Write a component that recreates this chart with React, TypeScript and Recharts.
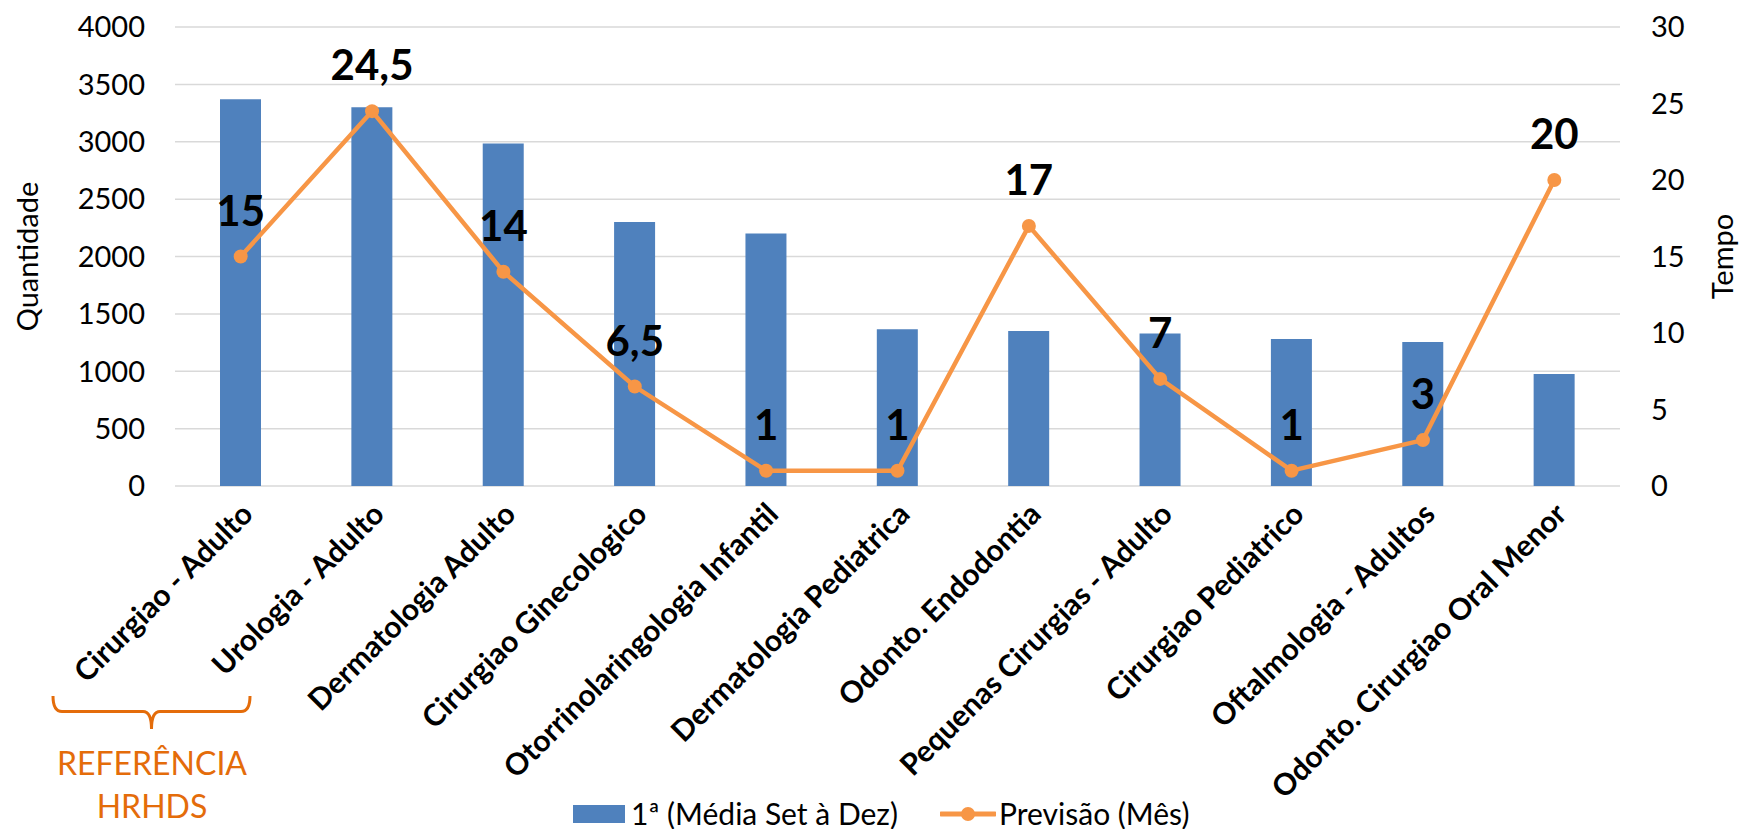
import { ComposedChart, Bar, Line, XAxis, YAxis, CartesianGrid, Legend, LabelList } from "recharts"

const categories = [
  "Cirurgiao - Adulto",
  "Urologia - Adulto",
  "Dermatologia Adulto",
  "Cirurgiao Ginecologico",
  "Otorrinolaringologia Infantil",
  "Dermatologia Pediatrica",
  "Odonto. Endodontia",
  "Pequenas Cirurgias - Adulto",
  "Cirurgiao Pediatrico",
  "Oftalmologia - Adultos",
  "Odonto. Cirurgiao Oral Menor",
]
const mediaSetDez = [3370, 3300, 2985, 2300, 2200, 1365, 1350, 1330, 1280, 1255, 975]
const previsaoMes = [15, 24.5, 14, 6.5, 1, 1, 17, 7, 1, 3, 20]
const quantidadeTicks = [0, 500, 1000, 1500, 2000, 2500, 3000, 3500, 4000]
const tempoTicks = [0, 5, 10, 15, 20, 25, 30]

const data = categories.map((name, i) => ({
  name,
  media: mediaSetDez[i],
  previsao: previsaoMes[i],
}))

const BLUE = "#4F81BD"
const ORANGE = "#F79646"
const NOTE = "#E46C0A"

function CategoryTick(props: any) {
  const { x, y, payload } = props
  const px = x + 14
  const py = y + 22
  return (
    <text
      x={px}
      y={py}
      transform={`rotate(-45, ${px}, ${py})`}
      textAnchor="end"
      fontSize={30}
      fontWeight={700}
      fill="#000"
    >
      {payload.value}
    </text>
  )
}

function LegendContent() {
  return (
    <div style={{ position: "relative", width: 660, height: 30, fontSize: 30, color: "#000" }}>
      <div style={{ position: "absolute", left: 0, top: 5, width: 52, height: 18, background: BLUE }} />
      <span style={{ position: "absolute", left: 58, top: -5, whiteSpace: "nowrap" }}>1ª (Média Set à Dez)</span>
      <svg style={{ position: "absolute", left: 367, top: 0 }} width={56} height={28}>
        <line x1={1} y1={14} x2={55} y2={14} stroke={ORANGE} strokeWidth={5} strokeLinecap="round" />
        <circle cx={28} cy={14} r={7} fill={ORANGE} />
      </svg>
      <span style={{ position: "absolute", left: 426, top: -5, whiteSpace: "nowrap" }}>Previsão (Mês)</span>
    </div>
  )
}

const fmt = (v: any) => String(v).replace(".", ",")

export default function App() {
  return (
    <div style={{ position: "absolute", left: 0, top: 0, width: 1744, height: 829, fontFamily: "Lato, sans-serif", background: "#fff" }}>
      <ComposedChart width={1744} height={829} data={data} margin={{ top: 27, right: 0, bottom: 0, left: 0 }}>
        <CartesianGrid yAxisId="left" vertical={false} stroke="#D9D9D9" strokeWidth={1.5} />
        <XAxis
          dataKey="name"
          height={343}
          interval={0}
          axisLine={false}
          tickLine={false}
          tick={<CategoryTick />}
        />
        <YAxis
          yAxisId="left"
          width={175}
          domain={[0, 4000]}
          ticks={quantidadeTicks}
          axisLine={false}
          tickLine={false}
          tickMargin={24}
          tick={{ fontSize: 29, fill: "#000" }}
          label={{ value: "Quantidade", angle: -90, position: "insideLeft", offset: 28, fontSize: 29, fill: "#000", style: { textAnchor: "middle" } }}
        />
        <YAxis
          yAxisId="right"
          orientation="right"
          width={124}
          domain={[0, 30]}
          ticks={tempoTicks}
          axisLine={false}
          tickLine={false}
          tickMargin={25}
          tick={{ fontSize: 29, fill: "#000" }}
          label={{ value: "Tempo", angle: -90, position: "insideRight", offset: 21, fontSize: 29, fill: "#000", style: { textAnchor: "middle" } }}
        />
        <Legend
          layout="horizontal"
          verticalAlign="middle"
          align="center"
          wrapperStyle={{ left: 573, top: 800, width: 660 }}
          content={<LegendContent />}
        />
        <Bar yAxisId="left" dataKey="media" name="1ª (Média Set à Dez)" fill={BLUE} barSize={41} isAnimationActive={false} />
        <Line
          yAxisId="right"
          dataKey="previsao"
          name="Previsão (Mês)"
          stroke={ORANGE}
          strokeWidth={4.5}
          dot={{ r: 7, fill: ORANGE, stroke: "none" }}
          activeDot={false}
          isAnimationActive={false}
        >
          <LabelList dataKey="previsao" position="top" offset={31} formatter={fmt} fontSize={42} fontWeight={700} fill="#000" />
        </Line>
      </ComposedChart>
      <svg style={{ position: "absolute", left: 0, top: 0, pointerEvents: "none" }} width={1744} height={829}>
        <path
          d="M 53 696 Q 53 711.5 62 711.5 L 143 711.5 Q 151.5 711.5 151.5 729 Q 151.5 711.5 160 711.5 L 241 711.5 Q 250 711.5 250 696"
          fill="none"
          stroke={NOTE}
          strokeWidth={3}
        />
        <text x={152} y={775} textAnchor="middle" fontSize={32} fill={NOTE}>REFERÊNCIA</text>
        <text x={152} y={818} textAnchor="middle" fontSize={32} fill={NOTE}>HRHDS</text>
      </svg>
    </div>
  )
}
